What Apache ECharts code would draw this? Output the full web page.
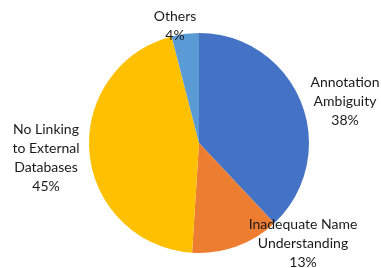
<!DOCTYPE html>
<html>
<head>
<meta charset="utf-8">
<script src="https://cdn.jsdelivr.net/npm/echarts@6/dist/echarts.min.js"></script>
<style>
  html, body { margin: 0; padding: 0; background: #fff; }
  #chart { width: 381px; height: 268px; }
</style>
</head>
<body>
<div id="chart"></div>
<script>
// categories (clockwise from 12 o'clock) and their shares
const categories = [
  'Annotation\nAmbiguity',
  'Inadequate Name\nUnderstanding',
  'No Linking\nto External\nDatabases',
  'Others'
]
const shares = [38, 13, 45, 4]
const colors = ['#4472c4', '#ed7d31', '#ffc000', '#5b9bd5']

// where each data label sits (label centre, px)
const labelPos = [
  [345, 101],
  [303, 243],
  [46, 158],
  [175, 26]
]

;(function () {
  let myChart = echarts.init(document.getElementById('chart'))
  let option = {
    animation: false,
    color: colors,
    series: [
      {
        type: 'pie',
        center: [199, 143],
        radius: 110,
        startAngle: 90,
        clockwise: true,
        itemStyle: { borderWidth: 0 },
        label: {
          show: true,
          position: 'inside',
          overflow: 'none',
          formatter: p => p.name + '\n' + p.value + '%',
          fontFamily: 'Lato',
          fontSize: 14,
          lineHeight: 19,
          color: '#1a1a1a',
          align: 'center'
        },
        labelLine: { show: false },
        labelLayout: function (params) {
          let pos = labelPos[params.dataIndex]
          return { x: pos[0], y: pos[1], align: 'center', verticalAlign: 'middle' }
        },
        data: categories.map((c, i) => ({ name: c, value: shares[i] }))
      }
    ]
  }
  myChart.setOption(option)
})()
</script>
</body>
</html>
